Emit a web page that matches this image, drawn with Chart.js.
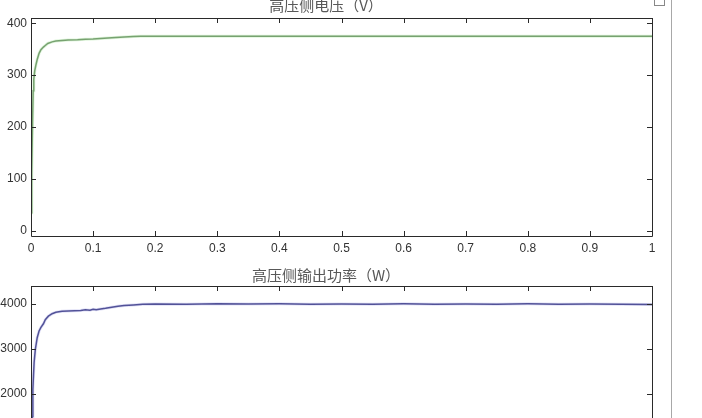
<!DOCTYPE html>
<html>
<head>
<meta charset="utf-8">
<script src="https://cdn.jsdelivr.net/npm/chart.js@4"></script>
<style>
  html, body { margin: 0; padding: 0; background: #fff; overflow: hidden; width: 702px; height: 418px; }
  canvas { position: absolute; left: 0; }
  #voltChart { top: -4px; }
  #powerChart { top: 266px; }
  #winLine { position: absolute; left: 671px; top: 0; width: 1px; height: 418px; background: #a8a8a8; }
  #winBox { position: absolute; left: 654px; top: -5px; width: 9px; height: 9px; border: 1px solid #888; }
</style>
</head>
<body>
<canvas id="voltChart" width="676" height="262"></canvas>
<canvas id="powerChart" width="676" height="240"></canvas>
<div id="winLine"></div>
<div id="winBox"></div>
<script>
// 高压侧电压 (V)
const timeV = [0, 0.0008, 0.0015, 0.0025, 0.0035, 0.0045, 0.006, 0.008, 0.01, 0.013, 0.016, 0.02, 0.023, 0.027, 0.034, 0.04, 0.05, 0.06, 0.075, 0.0875, 0.1, 0.112, 0.13, 0.15, 0.165, 0.176, 0.19, 0.25, 0.4, 0.6, 0.8, 1.0];
const voltage = [35, 70, 110, 210, 270, 292, 308, 320, 330, 342, 349, 354, 357, 361, 364, 365.5, 366.5, 367.5, 368, 369, 369.5, 370.5, 372, 373.5, 374.3, 374.7, 375, 375, 375, 375, 375, 375];

// 高压侧输出功率 (W)
const timeP = [0, 0.001, 0.002, 0.003, 0.005, 0.007, 0.01, 0.013, 0.016, 0.02, 0.023, 0.028, 0.034, 0.04, 0.045, 0.05, 0.06, 0.07, 0.08, 0.0875, 0.095, 0.1, 0.105, 0.112, 0.12, 0.13, 0.14, 0.15, 0.165, 0.18, 0.2, 0.25, 0.3, 0.35, 0.4, 0.45, 0.5, 0.55, 0.6, 0.65, 0.7, 0.75, 0.8, 0.85, 0.9, 0.95, 1.0];
const power = [100, 600, 1500, 2100, 2700, 2990, 3250, 3400, 3480, 3560, 3650, 3730, 3785, 3815, 3830, 3838, 3845, 3850, 3858, 3873, 3860, 3885, 3875, 3890, 3905, 3930, 3950, 3965, 3978, 3992, 4000, 3995, 4005, 3998, 4003, 3995, 4002, 3997, 4004, 3996, 4001, 3995, 4003, 3997, 4002, 3994, 3988];

const xTicks = [0, 0.1, 0.2, 0.3, 0.4, 0.5, 0.6, 0.7, 0.8, 0.9, 1];
const voltTicks = [0, 100, 200, 300, 400];
const powerTicks = [0, 1000, 2000, 3000, 4000];

const tickFont = { family: '"Liberation Sans", Arial, sans-serif', size: 12 };
const titleFont = { family: '"Noto Sans CJK SC", sans-serif', size: 15, weight: 'normal', lineHeight: 1.2 };

// MATLAB style box with inward ticks on all four sides
const boxTicks = {
    id: 'boxTicks',
    afterDraw(chart) {
        const { ctx, chartArea: a, scales: { x, y } } = chart;
        ctx.save();
        ctx.strokeStyle = '#2a2a2a';
        ctx.lineWidth = 1;
        ctx.beginPath();
        ctx.rect(Math.round(a.left) + 0.5, Math.round(a.top) + 0.5, Math.round(a.right - a.left), Math.round(a.bottom - a.top));
        x.ticks.forEach(t => {
            const px = Math.round(x.getPixelForValue(t.value)) + 0.5;
            ctx.moveTo(px, a.bottom); ctx.lineTo(px, a.bottom - 5);
            ctx.moveTo(px, a.top); ctx.lineTo(px, a.top + 5);
        });
        y.ticks.forEach(t => {
            const py = Math.round(y.getPixelForValue(t.value)) + 0.5;
            if (py < a.top || py > a.bottom) return;
            ctx.moveTo(a.left, py); ctx.lineTo(a.left + 5, py);
            ctx.moveTo(a.right, py); ctx.lineTo(a.right - 5, py);
        });
        ctx.stroke();
        ctx.restore();
    }
};

function makeChart(id, title, xs, ys, yMin, yMax, yTicks, coreColor, haloColor, titlePad) {
    const pts = xs.map((t, i) => ({ x: t, y: ys[i] }));
    return new Chart(document.getElementById(id), {
        type: 'line',
        data: {
            datasets: [
                { data: pts, borderColor: haloColor, borderWidth: 3, pointRadius: 0, tension: 0 },
                { data: pts, borderColor: coreColor, borderWidth: 1.5, pointRadius: 0, tension: 0 }
            ]
        },
        options: {
            responsive: false,
            animation: false,
            devicePixelRatio: 1,
            layout: { padding: { left: 0, right: 24, bottom: 0 } },
            plugins: {
                legend: { display: false },
                tooltip: { enabled: false },
                title: { display: true, text: title, color: '#585858', font: titleFont, padding: titlePad }
            },
            scales: {
                x: {
                    type: 'linear', min: 0, max: 1,
                    grid: { display: false, drawTicks: false }, border: { display: false },
                    afterBuildTicks: ax => { ax.ticks = xTicks.map(v => ({ value: v })); },
                    afterFit: ax => { ax.height = 22; },
                    ticks: { color: '#333', font: tickFont, padding: 5, maxRotation: 0, callback: v => String(v) }
                },
                y: {
                    type: 'linear', min: yMin, max: yMax,
                    grid: { display: false, drawTicks: false }, border: { display: false },
                    afterBuildTicks: ax => { ax.ticks = yTicks.map(v => ({ value: v })); },
                    afterFit: ax => { ax.width = 31; },
                    ticks: { color: '#333', font: tickFont, padding: 4, callback: v => String(v) }
                }
            }
        },
        plugins: [boxTicks]
    });
}

makeChart('voltChart', '高压侧电压（V）', timeV, voltage, -10, 410, voltTicks,
    '#52754e', 'rgba(175,230,165,0.4)', { top: 0.5, bottom: 3.5 });
makeChart('powerChart', '高压侧输出功率（W）', timeP, power, 0, 4400, powerTicks,
    '#26266f', 'rgba(165,165,230,0.35)', { top: 0.5, bottom: 1.5 });
</script>
</body>
</html>
